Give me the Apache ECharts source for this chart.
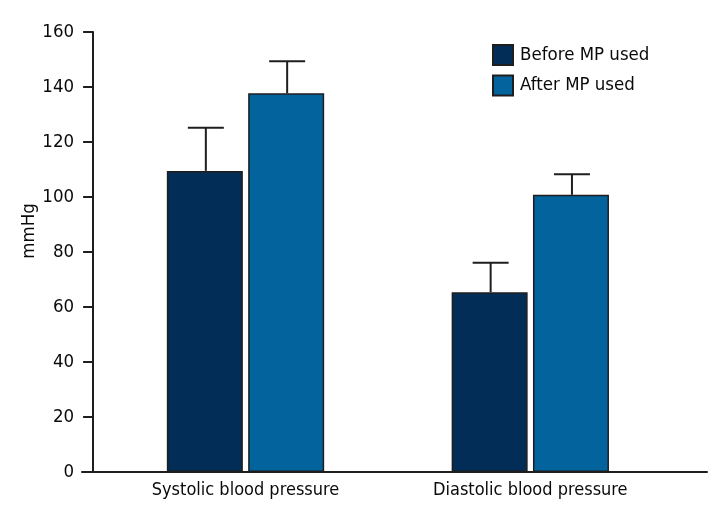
<!DOCTYPE html>
<html>
<head>
<meta charset="utf-8">
<script src="https://cdn.jsdelivr.net/npm/echarts@6/dist/echarts.min.js"></script>
<style>
html,body{margin:0;padding:0;background:#fff;}
#chart{width:720px;height:528px;}
</style>
</head>
<body>
<div id="chart"></div>
<script>
// ---- data ----
const categories = ['Systolic blood pressure', 'Diastolic blood pressure'];
const seriesNames = ['Before MP used', 'After MP used'];
const beforeMean = [109.5, 65.4];
const beforeSD = [15.7, 10.7];
const afterMean = [137.7, 100.8];
const afterSD = [11.7, 7.5];
const yTicks = [0, 20, 40, 60, 80, 100, 120, 140, 160];

// ---- style ----
const FONT = '"Liberation Sans Narrow", "DejaVu Sans Condensed", "Liberation Sans", sans-serif';
const INK = '#1e1e1e';
const TXT = '#0a0a0a';
const C_BEFORE = '#022d57';
const C_AFTER = '#03639c';
const BAR_W = 76;
const BAR_GAP = 0.07;

const chart = echarts.init(document.getElementById('chart'), null, {renderer: 'canvas'});

function errorSeries(means, sds, sign) {
  return {
    type: 'custom',
    xAxisIndex: 0,
    yAxisIndex: 0,
    z: 5,
    silent: true,
    data: means.map((m, i) => [i, m, m + sds[i]]),
    renderItem: function (params, api) {
      const c = api.coord([api.value(0), api.value(1)]);
      const t = api.coord([api.value(0), api.value(2)]);
      const off = sign * (BAR_W * (1 + BAR_GAP)) / 2 + 1;
      const x = c[0] + off;
      const cap = 18;
      return {
        type: 'group',
        children: [
          {type: 'line', shape: {x1: x, y1: c[1], x2: x, y2: t[1]}, style: {stroke: INK, lineWidth: 2}},
          {type: 'line', shape: {x1: x - cap, y1: t[1], x2: x + cap, y2: t[1]}, style: {stroke: INK, lineWidth: 2}}
        ]
      };
    }
  };
}

const option = {
  backgroundColor: '#fff',
  animation: false,
  textStyle: {fontFamily: FONT},
  legend: {
    data: seriesNames,
    orient: 'vertical',
    left: 487,
    top: 39,
    itemWidth: 20,
    itemHeight: 20,
    itemGap: 8.5,
    icon: 'rect',
    textStyle: {fontFamily: FONT, fontSize: 18.5, color: TXT, padding: [0, 0, 0, 2]}
  },
  grid: [
    {left: 103.1, right: 47.3, top: 32, bottom: 56, containLabel: false, outerBoundsMode: 'none'},
    {left: 82, right: 13, top: 32, bottom: 56, containLabel: false, outerBoundsMode: 'none'}
  ],
  xAxis: [
    {
      type: 'category', gridIndex: 0, data: categories,
      axisLine: {show: false}, axisTick: {show: false},
      axisLabel: {fontFamily: FONT, fontSize: 18, color: TXT, margin: 9, interval: 0, hideOverlap: false}
    },
    {
      type: 'value', gridIndex: 1, min: 0, max: 1,
      axisLine: {show: true, lineStyle: {color: INK, width: 2}},
      axisTick: {show: false}, axisLabel: {show: false}, splitLine: {show: false}
    }
  ],
  yAxis: [
    {
      type: 'value', gridIndex: 0, min: yTicks[0], max: yTicks[yTicks.length - 1], interval: 20,
      offset: 10,
      name: 'mmHg', nameLocation: 'middle', nameGap: 54, nameRotate: 90, nameMoveOverlap: false,
      nameTextStyle: {fontFamily: FONT, fontSize: 18.5, color: TXT, padding: [0, 0, 0, 42]},
      axisLine: {show: true, lineStyle: {color: INK, width: 2}},
      axisTick: {show: true, inside: false, length: 10, lineStyle: {color: INK, width: 2}},
      axisLabel: {fontFamily: FONT, fontSize: 18.5, color: TXT, margin: 19},
      splitLine: {show: false}
    },
    {
      type: 'value', gridIndex: 1, min: 0, max: 1, show: false
    }
  ],
  series: [
    {
      name: seriesNames[0], type: 'bar', xAxisIndex: 0, yAxisIndex: 0,
      data: beforeMean, barWidth: BAR_W, barGap: (BAR_GAP * 100) + '%',
      itemStyle: {color: C_BEFORE, borderColor: INK, borderWidth: 1.5}
    },
    {
      name: seriesNames[1], type: 'bar', xAxisIndex: 0, yAxisIndex: 0,
      data: afterMean, barWidth: BAR_W, barGap: (BAR_GAP * 100) + '%',
      itemStyle: {color: C_AFTER, borderColor: INK, borderWidth: 1.5}
    },
    errorSeries(beforeMean, beforeSD, -1),
    errorSeries(afterMean, afterSD, 1)
  ]
};
chart.setOption(option);
</script>
</body>
</html>
